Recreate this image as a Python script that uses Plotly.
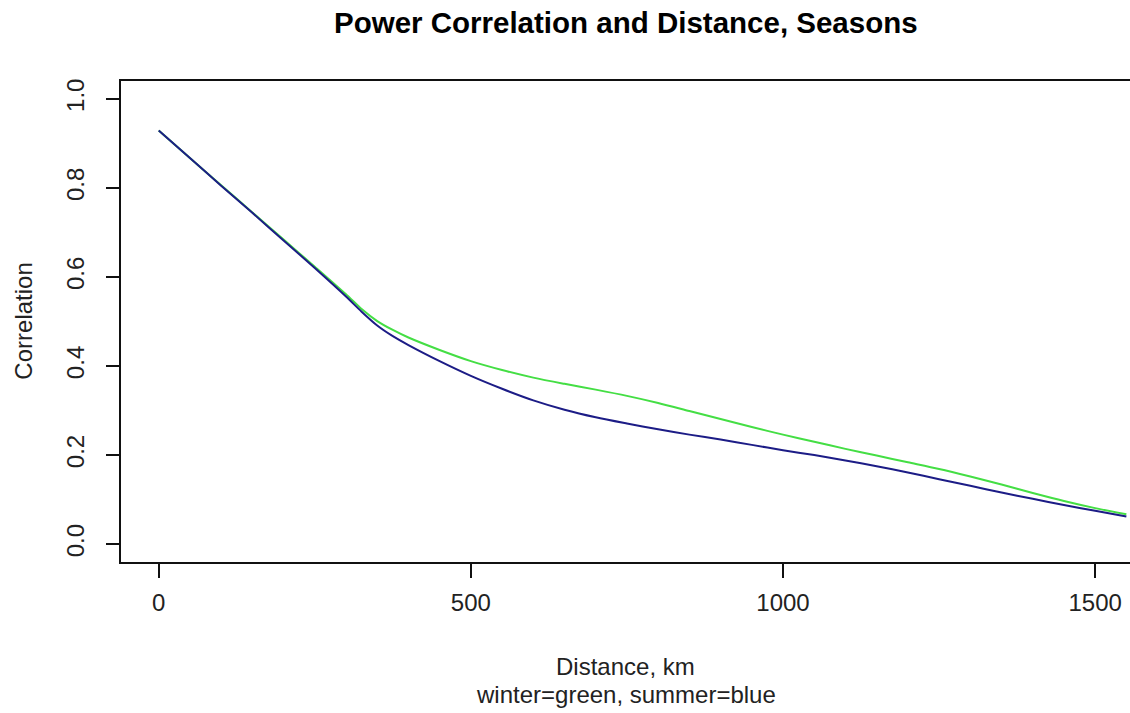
import plotly.graph_objects as go

# Data
distance_km = [0, 50, 100, 150, 200, 250, 300, 325, 350, 375, 400, 450, 500, 550, 600, 650, 700, 750,
               800, 850, 900, 950, 1000, 1050, 1100, 1150, 1200, 1250, 1300, 1350, 1400, 1450, 1500, 1550]
winter_corr = [0.929, 0.867, 0.806, 0.745, 0.684, 0.623, 0.561, 0.528, 0.501, 0.481, 0.464, 0.436,
               0.411, 0.391, 0.374, 0.360, 0.347, 0.333, 0.317, 0.299, 0.281, 0.263, 0.246, 0.230,
               0.214, 0.199, 0.184, 0.169, 0.152, 0.134, 0.115, 0.097, 0.081, 0.067]
summer_corr = [0.929, 0.867, 0.805, 0.744, 0.682, 0.620, 0.556, 0.522, 0.491, 0.467, 0.447, 0.411,
               0.378, 0.349, 0.323, 0.302, 0.285, 0.271, 0.258, 0.246, 0.235, 0.223, 0.211, 0.200,
               0.188, 0.175, 0.161, 0.146, 0.131, 0.116, 0.102, 0.088, 0.075, 0.062]
x_ticks = [0, 500, 1000, 1500]
y_ticks = [0.0, 0.2, 0.4, 0.6, 0.8, 1.0]
y_tick_labels = ["0.0", "0.2", "0.4", "0.6", "0.8", "1.0"]

FONT = "Liberation Sans, Arial, sans-serif"
TXT = "#222222"

fig = go.Figure()
fig.add_trace(go.Scatter(x=distance_km, y=winter_corr, mode="lines",
                         line=dict(color="#44de44", width=2, shape="spline", smoothing=0.8),
                         name="winter"))
fig.add_trace(go.Scatter(x=distance_km, y=summer_corr, mode="lines",
                         line=dict(color="#1c1c86", width=2, shape="spline", smoothing=0.8),
                         name="summer"))

fig.update_layout(
    width=1130, height=713,
    margin=dict(l=121, r=0, t=81, b=151),
    paper_bgcolor="white", plot_bgcolor="white",
    showlegend=False,
    font=dict(family=FONT, size=24, color=TXT),
)
fig.update_xaxes(
    range=[-60.4, 1555.8], tickvals=x_ticks, ticktext=[str(v) for v in x_ticks],
    showgrid=False, zeroline=False,
    showline=True, linecolor="#111111", linewidth=2, mirror=True,
    ticks="outside", ticklen=14, tickwidth=2, tickcolor="#111111",
    ticklabelstandoff=4,
    tickfont=dict(family=FONT, size=24, color=TXT),
)
fig.update_yaxes(
    range=[-0.04, 1.04], tickvals=y_ticks, ticktext=y_tick_labels,
    showgrid=False, zeroline=False,
    showline=True, linecolor="#111111", linewidth=2, mirror=False,
    ticks="outside", ticklen=13, tickwidth=2, tickcolor="#111111",
    tickangle=-90, ticklabelstandoff=12,
    tickfont=dict(family=FONT, size=24, color=TXT),
)

fig.add_annotation(text="<b>Power Correlation and Distance, Seasons</b>",
                   xref="paper", yref="paper", x=0.5, y=1.121, xanchor="center", yanchor="middle",
                   showarrow=False, font=dict(family=FONT, size=29.5, color="#000000"))
fig.add_annotation(text="Distance, km",
                   xref="paper", yref="paper", x=0.5, y=-0.217, xanchor="center", yanchor="middle",
                   showarrow=False, font=dict(family=FONT, size=24, color=TXT))
fig.add_annotation(text="winter=green, summer=blue",
                   xref="paper", yref="paper", x=0.5, y=-0.276, xanchor="center", yanchor="middle",
                   showarrow=False, font=dict(family=FONT, size=24, color=TXT))
fig.add_annotation(text="Correlation",
                   xref="paper", yref="paper", x=-0.097, y=0.5, xanchor="center", yanchor="middle",
                   textangle=-90, showarrow=False, font=dict(family=FONT, size=24, color=TXT))

fig.write_html("out.html")
